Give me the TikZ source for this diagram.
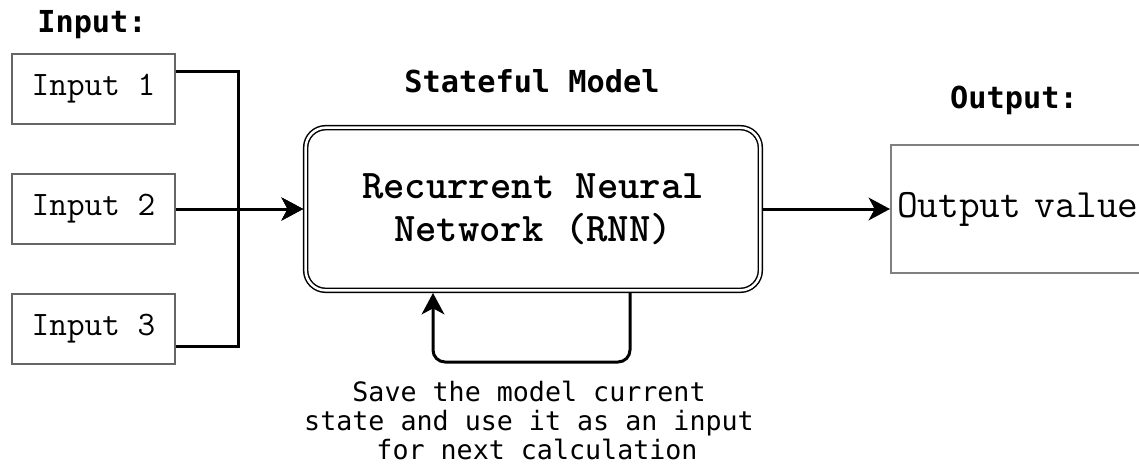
\documentclass[tikz,border=0pt]{standalone}
\usepackage{fontspec}
\newfontfamily\labfont{DejaVu Sans Mono}
\newfontfamily\rnnfont{lmmonolt10-bold.otf}
\usetikzlibrary{arrows.meta, positioning}

\begin{document}
\begin{tikzpicture}[
        x=0.75pt, y=-0.75pt,
        inbox/.style={draw=black!60, line width=1.5pt, minimum width=122pt, minimum height=52.5pt, font=\ttfamily\fontsize{25.7}{30}\selectfont},
        rnnbox/.style={draw, line width=1.1pt, double, double distance=1.9pt, rounded corners=15pt, minimum width=341pt, minimum height=122pt, outer sep=2pt, align=center, font=\rnnfont\fontsize{30.5}{32.5}\selectfont},
        outbox/.style={draw=black!50, line width=1.5pt, minimum height=96pt, text width=200pt, inner xsep=4.5pt, align=left, anchor=west, font=\ttfamily\fontsize{30.2}{32}\selectfont},
        title/.style={anchor=base, font=\labfont\bfseries\fontsize{22.7}{26}\selectfont},
        note/.style={align=center, font=\labfont\fontsize{20}{21.75}\selectfont},
        conn/.style={line width=2.25pt, -{Stealth[length=16pt, width=17pt, inset=4.5pt]}}
    ]
        \clip (0,0) rectangle (1139,471);

        % Eingaben
        \node [inbox] (in2) at (93.5,209) {Input 2};
        \node [inbox, above=36pt of in2] (in1) {Input 1};
        \node [inbox, below=36pt of in2] (in3) {Input 3};
        \node [title] (intitle) at (92,32) {Input:};

        % Modell und Ausgabe
        \node [rnnbox] (rnn) at (533,209) {Recurrent Neural\\Network (RNN)};
        \node [title] (rnntitle) at (532,92) {Stateful Model};
        \node [outbox] (out) at (890,209) {Output value};
        \node [title] (outtitle) at (1014,108) {Output:};
        \coordinate (bus) at (238,209);

        % Verbindungen
        \draw[conn] ([yshift=13pt]in1.east) -| (bus) -- (rnn.west);
        \draw[conn] (in2.east) -- (rnn.west);
        \draw[conn] ([yshift=-13pt]in3.east) -| (bus) -- (rnn.west);
        \draw[conn] (rnn.east) -- (out.west);

        % Rueckfuehrung des Zustands
        \draw[conn, rounded corners=9pt] ([xshift=72.75pt]rnn.south) -- ++(0,69) -| ([xshift=-75pt]rnn.south);
        \node [note] (save) at (529,420) {Save the model current\\state and use it as an input\\\hspace*{0.6em}for next calculation};
    \end{tikzpicture}
\end{document}
